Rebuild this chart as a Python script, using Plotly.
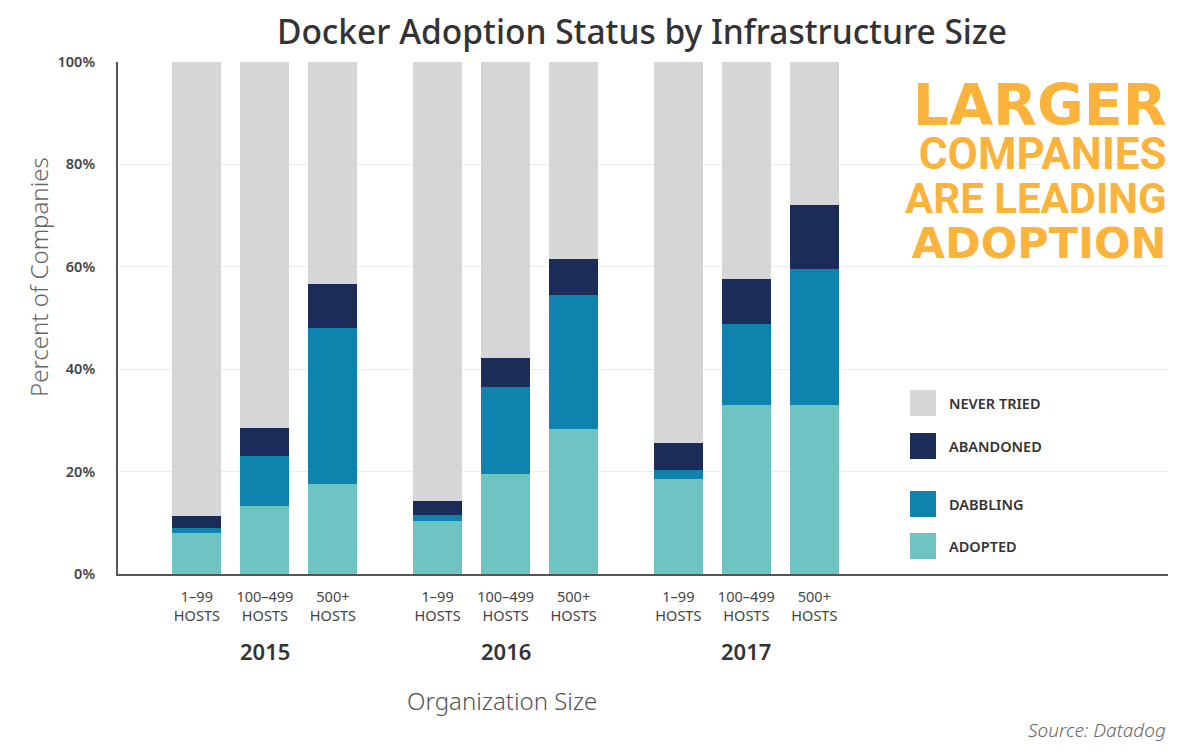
import plotly.graph_objects as go

years = ["2015", "2016", "2017"]
sizes = ["1–99<br>HOSTS", "100–499<br>HOSTS", "500+<br>HOSTS"]
y_ticks = [0, 20, 40, 60, 80, 100]
y_ticktext = ["0%", "20%", "40%", "60%", "80%", "100%"]

# values in percent, order: 2015 (1-99, 100-499, 500+), 2016 (...), 2017 (...)
adopted     = [8.1, 13.3, 17.6, 10.4, 19.5, 28.3, 18.5, 33.1, 33.1]
dabbling    = [0.8,  9.7, 30.5,  1.1, 17.1, 26.1,  1.8, 15.8, 26.4]
abandoned   = [2.5,  5.6,  8.5,  2.7,  5.5,  7.1,  5.3,  8.8, 12.6]
never_tried = [88.6, 71.4, 43.4, 85.8, 57.9, 38.5, 74.4, 42.3, 27.9]

series_names = ["ADOPTED", "DABBLING", "ABANDONED", "NEVER TRIED"]
series_values = [adopted, dabbling, abandoned, never_tried]
colors = ["#6dc4c3", "#0d83ad", "#1c2c58", "#d6d6d9"]

GROUP_STEP = 3.54
xpos = [g * GROUP_STEP + i for g in range(len(years)) for i in range(len(sizes))]
ticktext = [s for _ in years for s in sizes]

fig = go.Figure()
for name, vals, col in zip(series_names, series_values, colors):
    fig.add_trace(go.Bar(x=xpos, y=vals, name=name, marker=dict(color=col, line=dict(width=0)),
                         width=0.72, showlegend=False))

OFF = 8  # page body margin
W, H = 1184 - OFF, 751 - OFF
L, R, T, B = 118, 1168, 62, 574  # plot area in screen pixels

def px(x):
    return (x - L) / (R - L)

def py(y):
    return (B - y) / (B - T)

annotations = []
for g, yr in enumerate(years):
    annotations.append(dict(x=g * GROUP_STEP + 1, y=py(651), xref="x", yref="paper", text=yr,
                            showarrow=False, yanchor="middle",
                            font=dict(family="Noto Sans", size=22, color="#333333", weight=600)))
annotations.append(dict(x=GROUP_STEP + 0.95, y=py(700), xref="x", yref="paper", text="Organization Size",
                        showarrow=False, yanchor="middle",
                        font=dict(family="Noto Sans", size=24, color="#555555", weight=300)))
annotations.append(dict(x=px(38), y=py(277), xref="paper", yref="paper", text="Percent of Companies",
                        textangle=-90, showarrow=False, xanchor="center", yanchor="middle",
                        font=dict(family="Noto Sans", size=24, color="#666666", weight=300)))

callout_lines = [("LARGER", 57, "DejaVu Sans"), ("COMPANIES", 44, "Roboto"),
                 ("ARE LEADING", 42, "Roboto"), ("ADOPTION", 43, "DejaVu Sans")]
callout_text = "<br>".join(
    f"<span style='font-family:{fam};font-size:{sz}px'>{txt}</span>" for txt, sz, fam in callout_lines)
annotations.append(dict(x=px(1169), y=py(170), xref="paper", yref="paper", text=callout_text,
                        xanchor="right", yanchor="middle", align="right", showarrow=False,
                        font=dict(family="Roboto", size=34, color="#fbb33b", weight=700)))

annotations.append(dict(x=px(1168), y=py(730), xref="paper", yref="paper", text="<i>Source: Datadog</i>",
                        xanchor="right", yanchor="middle", showarrow=False,
                        font=dict(family="Noto Sans", size=19, color="#666666", weight=300)))

legend_items = [("NEVER TRIED", 403, colors[3]), ("ABANDONED", 446, colors[2]),
                ("DABBLING", 504, colors[1]), ("ADOPTED", 546, colors[0])]
shapes = []
for txt, yc, col in legend_items:
    shapes.append(dict(type="rect", xref="paper", yref="paper", x0=px(910), x1=px(936),
                       y0=py(yc + 13), y1=py(yc - 13), fillcolor=col, line=dict(width=0)))
    annotations.append(dict(x=px(947), y=py(yc), xref="paper", yref="paper", text=txt,
                            xanchor="left", yanchor="middle", showarrow=False,
                            font=dict(family="Noto Sans", size=14.5, color="#333333", weight=600)))

fig.update_layout(
    width=W, height=H,
    margin=dict(l=L - OFF, r=W - (R - OFF), t=T - OFF, b=H - (B - OFF), autoexpand=False),
    barmode="stack",
    plot_bgcolor="white", paper_bgcolor="white",
    title=dict(text="Docker Adoption Status by Infrastructure Size", x=(642 - OFF) / W, xanchor="center",
               y=1 - (32 - OFF) / H, yanchor="middle",
               font=dict(family="Noto Sans", size=33.5, color="#333333", weight=500)),
    xaxis=dict(tickvals=xpos, ticktext=ticktext, range=[-1.16, 14.28],
               showline=True, linecolor="#555555", linewidth=2, showgrid=False, zeroline=False,
               ticks="", tickfont=dict(family="Noto Sans", size=14.5, color="#444444"),
               ticklabelstandoff=9),
    yaxis=dict(range=[0, 100], tickvals=y_ticks, ticktext=y_ticktext,
               showline=True, linecolor="#555555", linewidth=2, gridcolor="#ececec",
               zeroline=False, ticks="", ticklabelstandoff=18,
               tickfont=dict(family="Noto Sans", size=14.5, color="#444444", weight=600)),
    annotations=annotations, shapes=shapes,
    bargap=0,
)

fig.write_html("out.html")
